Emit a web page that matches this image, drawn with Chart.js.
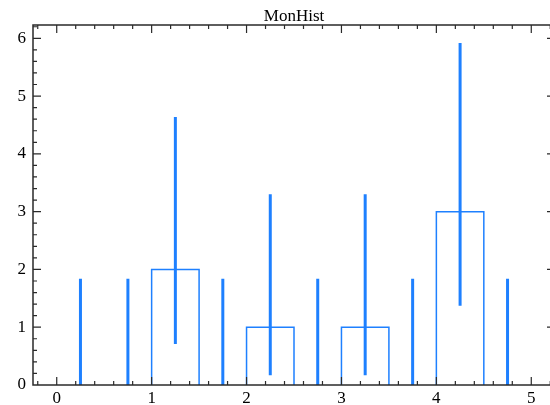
<!DOCTYPE html>
<html>
<head>
<meta charset="utf-8">
<script src="https://cdn.jsdelivr.net/npm/chart.js@4"></script>
<style>
  html, body { margin: 0; padding: 0; overflow: hidden; background: #fff; }
</style>
</head>
<body>
<canvas id="monHist" width="556" height="405"></canvas>
<script>
// histogram contents, 0.5 wide bins
const binEdges = [0, 0.5, 1, 1.5, 2, 2.5, 3, 3.5, 4, 4.5, 5];
const counts   = [0, 0, 2, 0, 1, 0, 1, 0, 3, 0];
// poisson error band per bin
const errLow   = [0, 0, 0.71, 0, 0.17, 0, 0.17, 0, 1.37, 0];
const errHigh  = [1.84, 1.84, 4.64, 1.84, 3.30, 1.84, 3.30, 1.84, 5.92, 1.84];
// axes
const xTicks = [0, 1, 2, 3, 4, 5];
const yTicks = [0, 1, 2, 3, 4, 5, 6];
const xRange = [-0.25, 5.25];
const yRange = [0, 6.23];
const minorStep = 0.2;

const blue = "#1e80ff";
const axisColor = "#2a2a2a";
const serif = '"Liberation Serif", "DejaVu Serif", serif';

// outline boxes for the non-empty bins
const outline = [];
counts.forEach((c, i) => {
  if (c <= 0) return;
  const lo = binEdges[i], hi = binEdges[i + 1];
  outline.push({ x: lo, y: 0 }, { x: lo, y: c }, { x: hi, y: c }, { x: hi, y: 0 }, { x: hi, y: null });
});

// vertical error bars at bin centres
const errBars = [];
counts.forEach((c, i) => {
  const mid = (binEdges[i] + binEdges[i + 1]) / 2;
  errBars.push({ x: mid, y: errLow[i] }, { x: mid, y: errHigh[i] }, { x: mid, y: null });
});

// frame, inward ticks (major + minor) and title
const framePlugin = {
  id: "frame",
  afterDraw(chart) {
    const { ctx, chartArea: a, scales: { x, y } } = chart;
    ctx.save();
    ctx.strokeStyle = axisColor;
    ctx.lineWidth = 1.5;
    ctx.strokeRect(a.left, a.top, a.right - a.left, a.bottom - a.top);

    ctx.lineWidth = 1.2;
    ctx.beginPath();
    const nx = Math.round((xRange[1] - xRange[0]) / minorStep) + 2;
    for (let k = -2; k < nx; k++) {
      const v = Math.round(k * minorStep * 10) / 10;
      if (v <= xRange[0] || v >= xRange[1]) continue;
      const px = x.getPixelForValue(v);
      const len = xTicks.includes(v) ? 8 : 4;
      ctx.moveTo(px, a.bottom); ctx.lineTo(px, a.bottom - len);
      ctx.moveTo(px, a.top);    ctx.lineTo(px, a.top + len);
    }
    const ny = Math.round((yRange[1] - yRange[0]) / minorStep) + 1;
    for (let k = 1; k < ny; k++) {
      const v = Math.round(k * minorStep * 10) / 10;
      if (v >= yRange[1]) continue;
      const py = y.getPixelForValue(v);
      const len = yTicks.includes(v) ? 8 : 4;
      ctx.moveTo(a.left, py);  ctx.lineTo(a.left + len, py);
      ctx.moveTo(a.right, py); ctx.lineTo(a.right - len, py);
    }
    ctx.stroke();

    ctx.fillStyle = "#000";
    ctx.font = "17px " + serif;
    ctx.textAlign = "center";
    ctx.textBaseline = "alphabetic";
    ctx.fillText("MonHist", (a.left + a.right) / 2, 21);
    ctx.restore();
  }
};

new Chart(document.getElementById("monHist"), {
  type: "line",
  data: {
    datasets: [
      {
        label: "outline",
        data: outline,
        borderColor: blue,
        borderWidth: 1.5,
        pointRadius: 0,
        fill: false,
        tension: 0
      },
      {
        label: "errors",
        data: errBars,
        borderColor: blue,
        borderWidth: 3,
        pointRadius: 0,
        fill: false,
        tension: 0
      }
    ]
  },
  options: {
    responsive: false,
    animation: false,
    layout: { padding: { top: 25, right: 1, left: 0, bottom: 0 } },
    plugins: {
      legend: { display: false },
      tooltip: { enabled: false },
      title: { display: false }
    },
    scales: {
      x: {
        type: "linear",
        min: xRange[0],
        max: xRange[1],
        afterBuildTicks: s => { s.ticks = xTicks.map(v => ({ value: v })); },
        afterFit: s => { s.height = 20; },
        grid: { display: false, drawTicks: false },
        border: { display: false },
        ticks: { color: "#000", padding: 3, font: { family: serif, size: 17 } }
      },
      y: {
        min: yRange[0],
        max: yRange[1],
        afterBuildTicks: s => { s.ticks = yTicks.map(v => ({ value: v })); },
        afterFit: s => { s.width = 33; },
        grid: { display: false, drawTicks: false },
        border: { display: false },
        ticks: { color: "#000", padding: 7, font: { family: serif, size: 17 } }
      }
    }
  },
  plugins: [framePlugin]
});
</script>
</body>
</html>
